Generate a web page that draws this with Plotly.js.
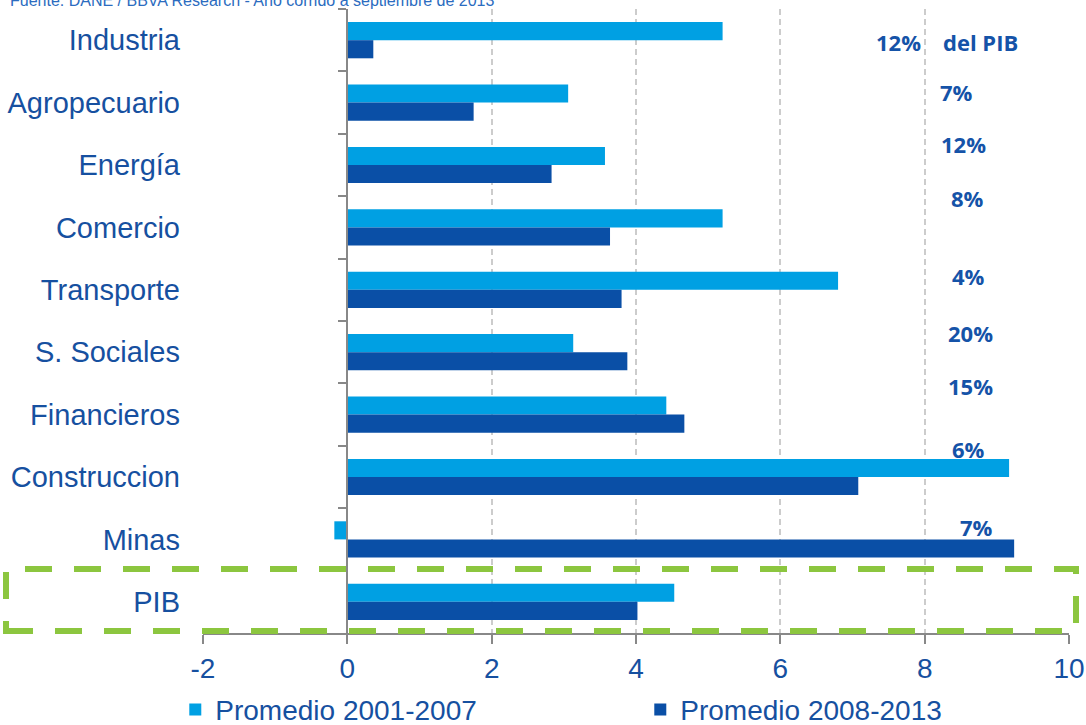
<!DOCTYPE html>
<html>
<head>
<meta charset="utf-8">
<script src="https://cdn.plot.ly/plotly-3.0.1.min.js"></script>
<style>html,body{margin:0;padding:0;background:#fff;}#chart{width:1086px;height:725px;}</style>
</head>
<body>
<div id="chart"></div>
<script>
const categories = ["Industria","Agropecuario","Energía","Comercio","Transporte","S. Sociales","Financieros","Construccion","Minas","PIB"];
const promedio2001_2007 = [5.2, 3.06, 3.57, 5.2, 6.8, 3.13, 4.42, 9.17, -0.18, 4.53];
const promedio2008_2013 = [0.36, 1.75, 2.83, 3.64, 3.8, 3.88, 4.67, 7.08, 9.24, 4.02];
const xTickValues = [-2, 0, 2, 4, 6, 8, 10];
const xTickLabels = ["-2", "0", "2", "4", "6", "8", "10"];
const shareLabels = ["12%", "del PIB", "7%", "12%", "8%", "4%", "20%", "15%", "6%", "7%"];
const sourceText = "Fuente: DANE / BBVA Research - Año corrido a septiembre de 2013";

const L = 203, R = 1069, T = 9, B = 633;
const px = v => (v - L) / (R - L);
const py = v => (B - v) / (B - T);

const textBlue = "#1650a0";
const arial = "Arial, 'Liberation Sans', sans-serif";
const annPos = [[898,42],[980,42],[956,92],[963,144],[967,198],[968,276],[970,333],[970,386],[968,449],[976,527]];

const annotations = shareLabels.map((t, i) => ({
  text: t, xref: "paper", yref: "paper", x: px(annPos[i][0]), y: py(annPos[i][1]),
  xanchor: "center", yanchor: "middle", showarrow: false,
  font: {family: "Open Sans, sans-serif", size: 22, color: "#1553a8", weight: 700}
}));
annotations.push({
  text: sourceText, xref: "paper", yref: "paper", x: px(8), y: py(0),
  xanchor: "left", yanchor: "middle", showarrow: false,
  font: {family: arial, size: 16, color: "#2b6cc0"}
});

const traces = [
  {type: "bar", orientation: "h", name: "Promedio 2001-2007", y: categories, x: promedio2001_2007,
   marker: {color: "#00a0e3"}, hoverinfo: "x+name"},
  {type: "bar", orientation: "h", name: "Promedio 2008-2013", y: categories, x: promedio2008_2013,
   marker: {color: "#0a4fa6"}, hoverinfo: "x+name"},
  {type: "scatter", mode: "none", y: categories, x: categories.map(() => 0), yaxis: "y2",
   showlegend: false, hoverinfo: "skip"}
];

const layout = {
  width: 1086, height: 725,
  margin: {l: L, r: 1086 - R, t: T, b: 725 - B, autoexpand: false},
  paper_bgcolor: "#fff", plot_bgcolor: "#fff",
  barmode: "group", bargap: 0.42, bargroupgap: 0,
  showlegend: true,
  legend: {orientation: "h", x: -0.032, xanchor: "left", y: -0.083, yanchor: "top",
    entrywidth: 420, font: {family: arial, size: 28, color: textBlue},
    traceorder: "normal"},
  xaxis: {range: [-2, 10], tickmode: "array", tickvals: xTickValues, ticktext: xTickLabels,
    showgrid: true, gridcolor: "#cccccc", gridwidth: 2,
    griddash: "6px,4px", zeroline: false, showline: true, linecolor: "#888888", linewidth: 2,
    ticks: "outside", ticklen: 9, tickwidth: 2, tickcolor: "#888888",
    tickfont: {family: arial, size: 28, color: textBlue},
    fixedrange: true},
  yaxis: {type: "category", categoryarray: categories, autorange: "reversed", showgrid: false,
    zeroline: false, showline: false, ticks: "", ticklabelstandoff: 22,
    tickfont: {family: arial, size: 29, color: textBlue}, fixedrange: true},
  yaxis2: {type: "category", categoryarray: categories, autorange: "reversed", overlaying: "y",
    anchor: "free", position: 2/12, side: "left", showgrid: false, zeroline: false,
    showline: true, linecolor: "#888888", linewidth: 2, ticks: "outside", tickson: "boundaries",
    ticklen: 8, tickwidth: 2, tickcolor: "#888888", showticklabels: false, fixedrange: true},
  shapes: [{type: "rect", xref: "paper", yref: "paper", x0: px(6), x1: px(1076), y0: py(631), y1: py(569),
    line: {color: "#8cc63f", width: 6, dash: "27px,22px"}, fillcolor: "rgba(0,0,0,0)", layer: "above"}],
  annotations: annotations
};

Plotly.newPlot("chart", traces, layout, {displayModeBar: false, staticPlot: true});
</script>
</body>
</html>
